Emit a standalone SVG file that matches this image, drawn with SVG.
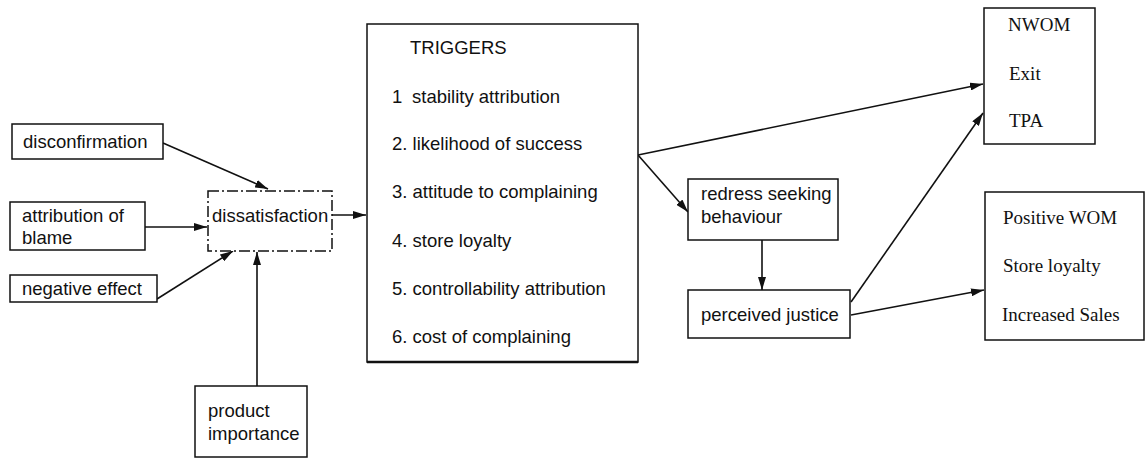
<svg xmlns="http://www.w3.org/2000/svg" width="1145" height="459" viewBox="0 0 1145 459">
<style>
.box{fill:#fff;stroke:#111;stroke-width:1.5}
.dash{fill:#fff;stroke:#111;stroke-width:1.5;stroke-dasharray:11 3 2 3}
.sans{font-family:"Liberation Sans",Arial,sans-serif;font-size:18.5px;fill:#111}
.serif{font-family:"Liberation Serif","Times New Roman",serif;font-size:19px;fill:#111}
.con{fill:none;stroke:#111;stroke-width:1.6;marker-end:url(#ah)}
</style>
<defs>
<marker id="ah" viewBox="0 0 13 8" refX="13" refY="4" markerWidth="13" markerHeight="8" markerUnits="userSpaceOnUse" orient="auto">
<path d="M0,0 L13,4 L0,8 Z" fill="#111"/>
</marker>
</defs>
<rect width="1145" height="459" fill="#fff"/>
<g id="connectors">
<line class="con" x1="163" y1="143" x2="268" y2="189"/>
<line class="con" x1="145" y1="227" x2="207" y2="227"/>
<line class="con" x1="157" y1="299" x2="233" y2="251"/>
<line class="con" x1="257" y1="386" x2="257" y2="252"/>
<line class="con" x1="332" y1="215" x2="366" y2="215"/>
<line class="con" x1="638" y1="155" x2="983" y2="84"/>
<line class="con" x1="638" y1="155" x2="688" y2="212"/>
<line class="con" x1="762" y1="240" x2="762" y2="290"/>
<line class="con" x1="851" y1="302" x2="983" y2="113"/>
<line class="con" x1="851" y1="315" x2="984" y2="290"/>
</g>
<g id="disconfirmation">
<rect class="box" x="12" y="124" width="151" height="35"/>
<text class="sans" x="23" y="148">disconfirmation</text>
</g>
<g id="attribution">
<rect class="box" x="10" y="202" width="135" height="48"/>
<text class="sans" x="22" y="222">attribution of</text>
<text class="sans" x="22" y="244">blame</text>
</g>
<g id="negative">
<rect class="box" x="10" y="275" width="147" height="27"/>
<text class="sans" x="22" y="295">negative effect</text>
</g>
<g id="dissatisfaction">
<rect class="dash" x="208" y="191" width="124" height="60"/>
<text class="sans" x="212" y="222">dissatisfaction</text>
</g>
<g id="product">
<rect class="box" x="195" y="386" width="112" height="71"/>
<text class="sans" x="208" y="417">product</text>
<text class="sans" x="208" y="440">importance</text>
</g>
<g id="triggers">
<rect class="box" x="367" y="24" width="271" height="338"/>
<line x1="367" y1="362" x2="638" y2="362" stroke="#111" stroke-width="2.5"/>
<text class="sans" x="410" y="54">TRIGGERS</text>
<text class="sans" x="392" y="103">1<tspan x="412">stability attribution</tspan></text>
<text class="sans" x="392" y="150">2. likelihood of success</text>
<text class="sans" x="392" y="198">3. attitude to complaining</text>
<text class="sans" x="392" y="247">4. store loyalty</text>
<text class="sans" x="392" y="295">5. controllability attribution</text>
<text class="sans" x="392" y="343">6. cost of complaining</text>
</g>
<g id="redress">
<rect class="box" x="688" y="179" width="150" height="61"/>
<text class="sans" x="701" y="200">redress seeking</text>
<text class="sans" x="701" y="223">behaviour</text>
</g>
<g id="justice">
<rect class="box" x="688" y="290" width="162" height="48"/>
<text class="sans" x="701" y="321">perceived justice</text>
</g>
<g id="negative-outcomes">
<rect class="box" x="984" y="8" width="111" height="136"/>
<text class="serif" x="1008" y="31">NWOM</text>
<text class="serif" x="1009" y="80">Exit</text>
<text class="serif" x="1009" y="127">TPA</text>
</g>
<g id="positive-outcomes">
<rect class="box" x="985" y="192" width="159" height="148"/>
<text class="serif" x="1003" y="224">Positive WOM</text>
<text class="serif" x="1003" y="272">Store loyalty</text>
<text class="serif" x="1002" y="321">Increased Sales</text>
</g>
</svg>
